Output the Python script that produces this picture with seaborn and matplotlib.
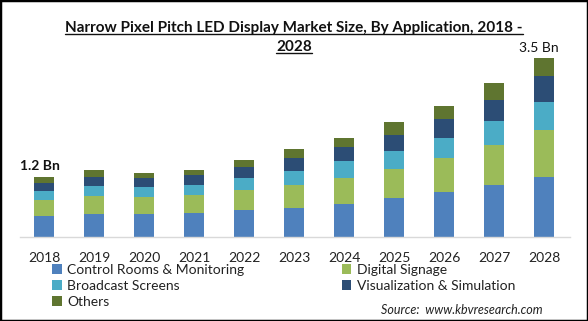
import matplotlib
matplotlib.use("Agg")
import matplotlib.pyplot as plt
from matplotlib.patches import Rectangle, Patch
from matplotlib.lines import Line2D
import seaborn as sns
import pandas as pd
import numpy as np

years = ["2018", "2019", "2020", "2021", "2022", "2023", "2024", "2025", "2026", "2027", "2028"]
control_rooms = [0.41, 0.45, 0.45, 0.47, 0.53, 0.58, 0.66, 0.76, 0.88, 1.02, 1.18]
digital_signage = [0.32, 0.35, 0.33, 0.35, 0.39, 0.45, 0.51, 0.59, 0.67, 0.79, 0.93]
broadcast = [0.18, 0.20, 0.20, 0.20, 0.24, 0.28, 0.32, 0.35, 0.41, 0.47, 0.55]
visualization = [0.16, 0.18, 0.18, 0.20, 0.22, 0.24, 0.28, 0.32, 0.37, 0.43, 0.51]
others = [0.11, 0.14, 0.11, 0.11, 0.14, 0.18, 0.19, 0.24, 0.26, 0.32, 0.37]
segments = ["Control Rooms & Monitoring", "Digital Signage", "Broadcast Screens",
            "Visualization & Simulation", "Others"]
colors = ["#4F81BD", "#9BBB59", "#4BACC6", "#2C4D75", "#5F7530"]
callouts = {"2018": "1.2 Bn", "2028": "3.5 Bn"}
title_lines = ["Narrow Pixel Pitch LED Display Market Size, By Application, 2018 -", "2028"]
source = "Source:  www.kbvresearch.com"

sns.set_theme(style="white")
plt.rcParams["font.family"] = ["Lato", "DejaVu Sans"]

W, H = 588, 321
fig = plt.figure(figsize=(W / 100, H / 100), dpi=100)
ax = fig.add_axes([20 / W, 1 - 237 / H, 550 / W, 202.7 / H])

series = [control_rooms, digital_signage, broadcast, visualization, others]
cum = np.cumsum(np.array(series), axis=0)
df = pd.DataFrame({"year": years})
for i in range(len(series) - 1, -1, -1):
    df["v"] = cum[i]
    sns.barplot(data=df, x="year", y="v", order=years, color=colors[i], width=0.4,
                saturation=1, errorbar=None, ax=ax, linewidth=0)

ax.set_xlim(-0.48, 10.52)
ax.set_ylim(0, 4.0)
ax.set_xlabel("")
ax.set_ylabel("")
ax.set_yticks([])
for s in ["top", "left", "right"]:
    ax.spines[s].set_visible(False)
ax.spines["bottom"].set_color("#D9D9D9")
ax.spines["bottom"].set_linewidth(1)
ax.tick_params(axis="x", length=0, pad=10.5, labelsize=10, labelcolor="#222222")

totals = cum[-1]
for yr, lab in callouts.items():
    i = years.index(yr)
    ax.annotate(lab, xy=(i, totals[i]), xytext=(-3 if i == 0 else -4, 4 if i == 0 else 2.5),
                textcoords="offset points",
                ha="center", va="bottom", fontsize=10,
                fontweight="bold" if i == 0 else "normal", color="#111111")

# title with underline
t1 = fig.text(294 / W, 1 - 28 / H, title_lines[0], ha="center", va="center",
              fontsize=11, fontweight="bold", color="#111111")
t2 = fig.text(294 / W, 1 - 47 / H, title_lines[1], ha="center", va="center",
              fontsize=11, fontweight="bold", color="#111111")
fig.canvas.draw()
r = fig.canvas.get_renderer()
for t in (t1, t2):
    bb = t.get_window_extent(r)
    y = (bb.y0 + 1) / H
    fig.add_artist(Line2D([bb.x0 / W, bb.x1 / W], [y, y], color="#111111", lw=1,
                          transform=fig.transFigure))

handles = [Patch(facecolor=c, edgecolor="none") for c in colors]
order = [0, 2, 4, 1, 3]
fig.legend([handles[i] for i in order], [segments[i] for i in order], ncol=2,
           loc="upper left", bbox_to_anchor=(52 / W, 1 - 263.5 / H), frameon=False,
           fontsize=10, handlelength=0.7, handleheight=0.7, handletextpad=0.4,
           columnspacing=7.0, labelspacing=0.3, borderpad=0, borderaxespad=0,
           labelcolor="#222222")

fig.text(381 / W, 1 - 310 / H, source, ha="left", va="center", fontsize=9,
         style="italic", color="#222222")

fig.add_artist(Rectangle((0, 0), 1, 1, transform=fig.transFigure, fill=False,
                         edgecolor="black", linewidth=2.5))

fig.savefig("out.png", dpi=100)
